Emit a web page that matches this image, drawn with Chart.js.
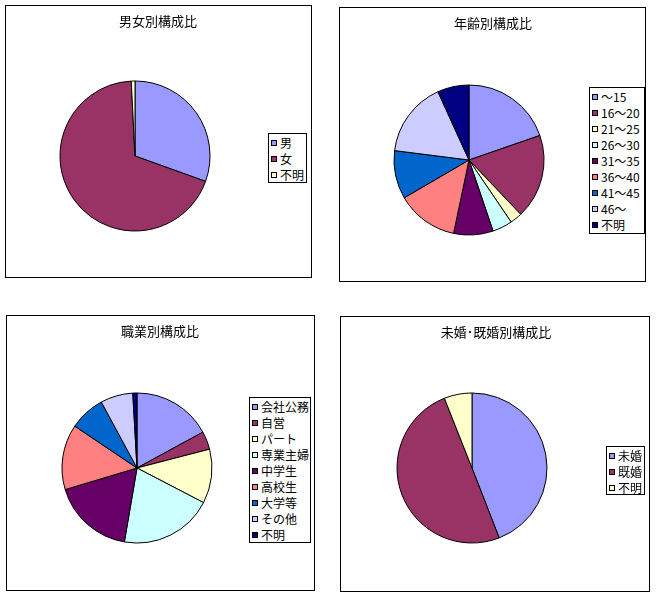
<!DOCTYPE html>
<html><head><meta charset="utf-8">
<script src="https://cdn.jsdelivr.net/npm/chart.js@4.4.1/dist/chart.umd.min.js"></script>
<style>
html,body{margin:0;padding:0;background:#fff;width:657px;height:599px;overflow:hidden;font-family:"Noto Sans CJK JP","Noto Sans",sans-serif;color:#000;}
.box{position:absolute;border:1px solid #000;box-sizing:border-box;background:#fff;}
.box canvas{position:absolute;left:0;top:0;}
.title{position:absolute;width:240px;text-align:center;font-size:13px;line-height:16px;white-space:nowrap;}
.legend{position:absolute;border:1px solid #000;box-sizing:border-box;padding:1px 0 0 2px;background:#fff;}
.item{height:16px;line-height:16px;font-size:12px;white-space:nowrap;display:flex;align-items:center;}
.sw{width:6px;height:6px;border:1px solid #000;box-sizing:border-box;margin-right:3px;flex:none;}
</style></head><body>
<script>
// ---- data ----
const genderTitle = '男女別構成比';
const genderLabels = ['男', '女', '不明'];
const genderValues = [30.5, 68.7, 0.8];

const ageTitle = '年齢別構成比';
const ageLabels = ['～15', '16～20', '21～25', '26～30', '31～35', '36～40', '41～45', '46～', '不明'];
const ageValues = [19.7, 18.2, 2.6, 4.3, 8.5, 13.3, 10.4, 16.2, 6.8];

const jobTitle = '職業別構成比';
const jobLabels = ['会社公務', '自営', 'パート', '専業主婦', '中学生', '高校生', '大学等', 'その他', '不明'];
const jobValues = [17.1, 3.9, 11.7, 20.1, 17.7, 14.1, 7.7, 7.0, 0.9];

const maritalTitle = '未婚･既婚別構成比';
const maritalLabels = ['未婚', '既婚', '不明'];
const maritalValues = [44.1, 49.9, 6.0];

// ---- styles / layout ----
const palette = ['#9999FF', '#993366', '#FFFFCC', '#CCFFFF', '#660066', '#FF8080', '#0066CC', '#CCCCFF', '#000080'];

const panels = [
  {title: genderTitle, labels: genderLabels, values: genderValues, box: [5, 5, 307, 273], center: [135, 156], titlePos: [158, 21], legend: [268, 133, 39, 50]},
  {title: ageTitle, labels: ageLabels, values: ageValues, box: [339, 7, 307, 275], center: [469, 160], titlePos: [493, 23], legend: [589, 87, 56, 147]},
  {title: jobTitle, labels: jobLabels, values: jobValues, box: [6, 315, 309, 276], center: [137, 468], titlePos: [160, 331], legend: [249, 397, 62, 146]},
  {title: maritalTitle, labels: maritalLabels, values: maritalValues, box: [340, 316, 310, 276], center: [472, 468], titlePos: [496, 332], legend: [606, 446, 39, 49]}
];

const R = 75;
panels.forEach(function (p) {
  const box = document.createElement('div');
  box.className = 'box';
  const bx = p.box[0], by = p.box[1], bw = p.box[2], bh = p.box[3];
  box.style.left = bx + 'px'; box.style.top = by + 'px';
  box.style.width = bw + 'px'; box.style.height = bh + 'px';
  document.body.appendChild(box);
  const W = bw - 2, H = bh - 2;
  const ox = bx + 1, oy = by + 1;

  const canvas = document.createElement('canvas');
  canvas.width = W; canvas.height = H;
  canvas.style.width = W + 'px'; canvas.style.height = H + 'px';
  box.appendChild(canvas);

  const title = document.createElement('div');
  title.className = 'title';
  title.textContent = p.title;
  title.style.left = (p.titlePos[0] - ox - 120) + 'px';
  title.style.top = (p.titlePos[1] - oy - 8) + 'px';
  box.appendChild(title);

  const cx = p.center[0] - ox, cy = p.center[1] - oy, pad = R + 4;
  const chart = new Chart(canvas, {
    type: 'pie',
    data: {
      labels: p.labels,
      datasets: [{
        data: p.values,
        backgroundColor: palette.slice(0, p.labels.length),
        borderColor: '#000000',
        borderWidth: 1,
        hoverOffset: 0
      }]
    },
    options: {
      responsive: false,
      animation: false,
      devicePixelRatio: 1,
      radius: R,
      events: [],
      layout: {padding: {left: cx - pad, top: cy - pad, right: W - cx - pad, bottom: H - cy - pad}},
      plugins: {legend: {display: false}, title: {display: false}, tooltip: {enabled: false}}
    }
  });

  const lg = document.createElement('div');
  lg.className = 'legend';
  lg.style.left = (p.legend[0] - ox) + 'px';
  lg.style.top = (p.legend[1] - oy) + 'px';
  lg.style.width = p.legend[2] + 'px';
  lg.style.height = p.legend[3] + 'px';
  let items;
  try {
    items = Chart.overrides.pie.plugins.legend.labels.generateLabels(chart);
  } catch (e) {
    items = p.labels.map(function (t, i) { return {text: t, fillStyle: palette[i]}; });
  }
  items.forEach(function (it) {
    const row = document.createElement('div');
    row.className = 'item';
    const sw = document.createElement('span');
    sw.className = 'sw';
    sw.style.background = it.fillStyle;
    const tx = document.createElement('span');
    tx.textContent = it.text;
    row.appendChild(sw); row.appendChild(tx);
    lg.appendChild(row);
  });
  box.appendChild(lg);
});
</script>
</body></html>
